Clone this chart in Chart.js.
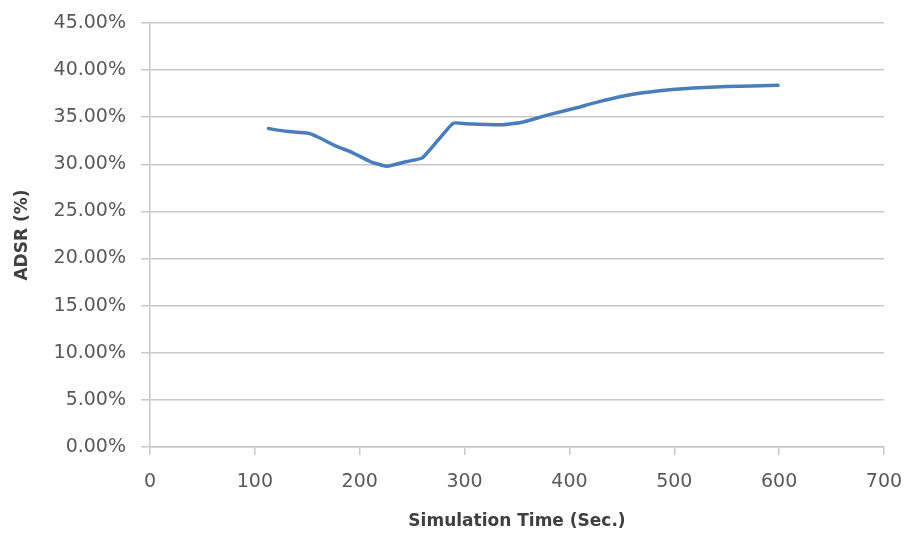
<!DOCTYPE html>
<html>
<head>
<meta charset="utf-8">
<script src="https://cdn.jsdelivr.net/npm/chart.js@4/dist/chart.umd.min.js"></script>
<style>
  html, body { margin: 0; padding: 0; background: #ffffff; }
  #wrap { width: 908px; height: 539px; position: relative; }
</style>
</head>
<body>
<div id="wrap"><canvas id="chart" width="908" height="539"></canvas></div>
<script>
// Simulation time (seconds) and the matching ADSR values (percent)
const simTime = [113, 130, 151, 160, 178, 192, 210, 226, 245, 260, 289, 302, 337, 356, 378, 407, 423, 454, 486, 518, 550, 599];
const adsr    = [33.8, 33.5, 33.3, 32.9, 31.9, 31.3, 30.3, 29.8, 30.3, 30.7, 34.35, 34.3, 34.2, 34.5, 35.2, 36.0, 36.5, 37.3, 37.8, 38.1, 38.25, 38.4];

const xTicks = [0, 100, 200, 300, 400, 500, 600, 700];
const yTicks = [0, 5, 10, 15, 20, 25, 30, 35, 40, 45];

const textColor = '#595959';
const titleColor = '#404040';
const gridColor = '#c8c8c8';
const fontFamily = '"DejaVu Sans", Verdana, sans-serif';

const points = simTime.map((t, i) => ({ x: t, y: adsr[i] }));

new Chart(document.getElementById('chart'), {
  type: 'scatter',
  data: {
    datasets: [{
      label: 'ADSR',
      data: points,
      showLine: true,
      borderColor: '#4a7ebb',
      borderWidth: 3.5,
      borderJoinStyle: 'round',
      borderCapStyle: 'round',
      pointRadius: 0,
      tension: 0.15
    }]
  },
  options: {
    responsive: false,
    animation: false,
    layout: { padding: { top: 23, right: 24, left: 0, bottom: 0 } },
    plugins: { legend: { display: false }, tooltip: { enabled: false } },
    scales: {
      x: {
        type: 'linear',
        min: 0, max: 700,
        afterBuildTicks: s => { s.ticks = xTicks.map(v => ({ value: v })); },
        afterFit: s => { s.height = 92; s.paddingLeft = 0; s.paddingRight = 0; },
        grid: { drawOnChartArea: false, drawTicks: true, tickLength: 8, color: gridColor, lineWidth: 1.5 },
        border: { color: gridColor, width: 1.5 },
        ticks: { color: textColor, padding: 16, font: { family: fontFamily, size: 19 } },
        title: {
          display: true,
          text: 'Simulation Time (Sec.)',
          color: titleColor,
          font: { family: fontFamily, size: 17, weight: 'bold' },
          padding: { top: 3, bottom: 7 }
        }
      },
      y: {
        min: 0, max: 45,
        afterBuildTicks: s => { s.ticks = yTicks.map(v => ({ value: v })); },
        afterFit: s => { s.width = 150; s.paddingTop = 0; s.paddingBottom = 0; },
        grid: { drawOnChartArea: true, drawTicks: true, tickLength: 9, color: gridColor, lineWidth: 1.5 },
        border: { color: gridColor, width: 1.5 },
        ticks: {
          color: textColor,
          padding: 15,
          font: { family: fontFamily, size: 19 },
          callback: v => v.toFixed(2) + '%'
        },
        title: {
          display: true,
          text: 'ADSR (%)',
          color: titleColor,
          font: { family: fontFamily, size: 17, weight: 'bold' },
          padding: { top: 12, bottom: 0 }
        }
      }
    }
  }
});
</script>
</body>
</html>
